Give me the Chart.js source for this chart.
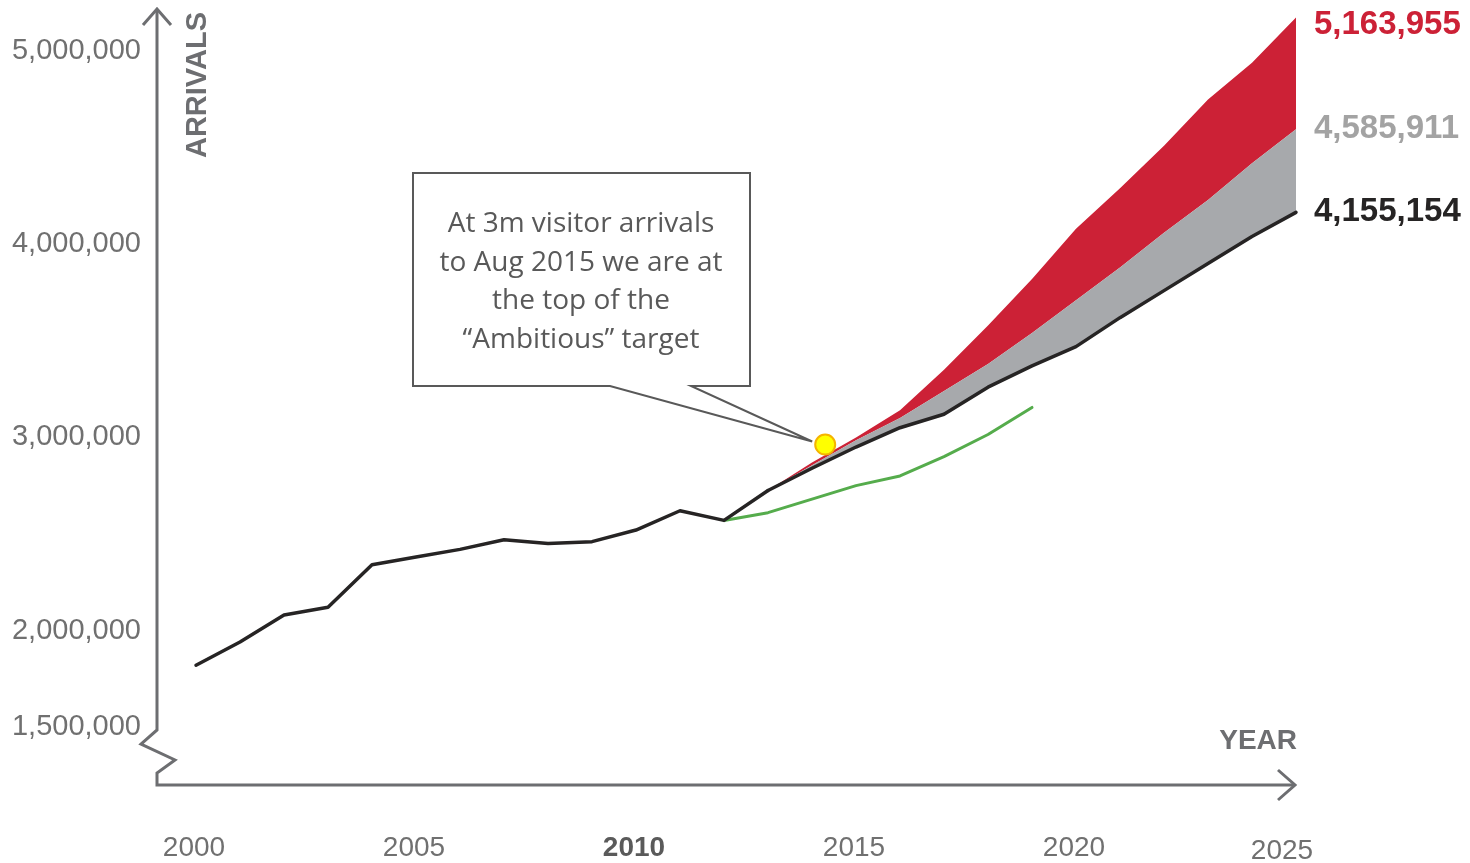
<!DOCTYPE html>
<html>
<head>
<meta charset="utf-8">
<title>Visitor arrivals</title>
<script src="https://cdn.jsdelivr.net/npm/chart.js@4.4.1/dist/chart.umd.min.js"></script>
<style>
  html, body { margin: 0; padding: 0; background: #fff; }
  #wrap { width: 1470px; height: 863px; position: relative; }
</style>
</head>
<body>
<div id="wrap"><canvas id="grafico"></canvas></div>
<script>
// actual arrivals up to 2013
const historyYears = [2000, 2001, 2002, 2003, 2004, 2005, 2006, 2007, 2008, 2009, 2010, 2011, 2012, 2013];
const historyArrivals = [1810000, 1930000, 2070000, 2110000, 2330000, 2370000, 2410000, 2460000, 2440000, 2450000, 2510000, 2610000, 2560000, 2715000];

// target scenarios 2013-2025
const projYears = [2013, 2014, 2015, 2016, 2017, 2018, 2019, 2020, 2021, 2022, 2023, 2024, 2025];
const targetBase = [2715000, 2830000, 2940000, 3040000, 3110000, 3250000, 3360000, 3460000, 3610000, 3750000, 3890000, 4030000, 4155154];
const targetMid = [2715000, 2845000, 2975000, 3090000, 3230000, 3370000, 3530000, 3700000, 3870000, 4050000, 4220000, 4410000, 4585911];
const targetHigh = [2715000, 2860000, 2990000, 3130000, 3340000, 3570000, 3810000, 4070000, 4280000, 4500000, 4740000, 4930000, 5163955];

// green line
const actualYears = [2012, 2013, 2014, 2015, 2016, 2017, 2018, 2019];
const actualArrivals = [2560000, 2600000, 2670000, 2740000, 2790000, 2890000, 3005000, 3145000];

// yellow marker (3m arrivals)
const markerYears = [2014.3];
const markerArrivals = [2953000];

const yTicks = [1500000, 2000000, 3000000, 4000000, 5000000];
const xTicks = [2000, 2005, 2010, 2015, 2020, 2025];

const notaLineas = ['At 3m visitor arrivals', 'to Aug 2015 we are at', 'the top of the', '\u201CAmbitious\u201D target'];

const ROJO = '#cc2136';
const GRIS = '#a7a9ac';
const NEGRO = '#262424';
const VERDE = '#55ac4c';
const EJE = '#6d6e71';

const pts = (xs, ys) => xs.map((x, i) => ({ x: x, y: ys[i] }));
const fmt = v => v.toLocaleString('en-US');

const ejes = {
  id: 'ejes',
  beforeDraw(chart) {
    const ctx = chart.ctx;
    const x = chart.scales.x, y = chart.scales.y;
    ctx.save();
    ctx.strokeStyle = EJE;
    ctx.lineWidth = 3;
    ctx.lineJoin = 'miter';
    // y axis with break, then x axis
    ctx.beginPath();
    ctx.moveTo(157, 10);
    ctx.lineTo(157, 730);
    ctx.lineTo(141, 744);
    ctx.lineTo(175, 760);
    ctx.lineTo(157, 773);
    ctx.lineTo(157, 785);
    ctx.lineTo(1294, 785);
    ctx.stroke();
    // arrow heads
    ctx.beginPath();
    ctx.moveTo(143, 25); ctx.lineTo(157, 9); ctx.lineTo(171, 25);
    ctx.moveTo(1278, 770); ctx.lineTo(1295, 785); ctx.lineTo(1278, 800);
    ctx.stroke();

    // tick labels
    ctx.fillStyle = '#707070';
    ctx.font = '29px "Liberation Sans", Arial, sans-serif';
    ctx.textAlign = 'right';
    ctx.textBaseline = 'middle';
    yTicks.forEach(v => ctx.fillText(fmt(v), 141, y.getPixelForValue(v) + 2));

    ctx.textAlign = 'center';
    xTicks.forEach(v => {
      const last = v === xTicks[xTicks.length - 1];
      ctx.font = (v === 2010 ? 'bold ' : '') + '28px "Liberation Sans", Arial, sans-serif';
      ctx.fillStyle = v === 2010 ? '#5a5a5a' : '#707070';
      ctx.fillText(String(v), x.getPixelForValue(v) - (last ? 14 : 2), last ? 851 : 848);
    });

    // axis titles
    ctx.fillStyle = EJE;
    ctx.font = 'bold 28px "Liberation Sans", Arial, sans-serif';
    ctx.textAlign = 'right';
    ctx.fillText('YEAR', 1297, 741);
    ctx.translate(197, 85);
    ctx.rotate(-Math.PI / 2);
    ctx.textAlign = 'center';
    ctx.font = 'bold 29px "Liberation Sans", Arial, sans-serif';
    ctx.fillText('ARRIVALS', 0, 1);
    ctx.restore();
  },
  afterDraw(chart) {
    const ctx = chart.ctx;
    const x = chart.scales.x, y = chart.scales.y;
    ctx.save();

    // end values of the three scenarios
    const fin = [[targetHigh, ROJO], [targetMid, '#a3a3a3'], [targetBase, NEGRO]];
    ctx.font = 'bold 33px "Liberation Sans", Arial, sans-serif';
    ctx.textAlign = 'left';
    ctx.textBaseline = 'middle';
    fin.forEach(([serie, color]) => {
      const v = serie[serie.length - 1];
      ctx.fillStyle = color;
      ctx.fillText(fmt(v), 1314, Math.max(y.getPixelForValue(v), 25));
    });

    // callout box pointing at the marker
    const tx = x.getPixelForValue(markerYears[0]) - 13;
    const ty = y.getPixelForValue(markerArrivals[0]) - 3;
    const bx = 413, by = 173, bw = 337, bh = 213;
    ctx.strokeStyle = '#595959';
    ctx.fillStyle = '#fff';
    ctx.lineWidth = 2;
    ctx.beginPath();
    ctx.moveTo(bx, by);
    ctx.lineTo(bx + bw, by);
    ctx.lineTo(bx + bw, by + bh);
    ctx.lineTo(691, by + bh);
    ctx.lineTo(tx, ty);
    ctx.lineTo(610, by + bh);
    ctx.lineTo(bx, by + bh);
    ctx.closePath();
    ctx.fill();
    ctx.stroke();

    ctx.fillStyle = '#595959';
    ctx.font = '28px "Open Sans", sans-serif';
    ctx.textAlign = 'center';
    notaLineas.forEach((t, i) => ctx.fillText(t, 581, 224 + i * 38.7));
    ctx.restore();
  }
};

new Chart(document.getElementById('grafico'), {
  type: 'line',
  data: {
    datasets: [
      {
        data: pts(historyYears, historyArrivals),
        borderColor: NEGRO, borderWidth: 3.5, pointRadius: 0, fill: false, order: 1
      },
      {
        data: pts(projYears, targetBase),
        borderColor: NEGRO, borderWidth: 3.5, pointRadius: 0, fill: false, order: 1
      },
      {
        data: pts(projYears, targetMid),
        borderWidth: 0, borderColor: 'rgba(0,0,0,0)', pointRadius: 0,
        backgroundColor: GRIS, fill: { target: 1 }, order: 3
      },
      {
        data: pts(projYears, targetHigh),
        borderWidth: 0, borderColor: 'rgba(0,0,0,0)', pointRadius: 0,
        backgroundColor: ROJO, fill: { target: 2 }, order: 4
      },
      {
        data: pts(actualYears, actualArrivals),
        borderColor: VERDE, borderWidth: 3, pointRadius: 0, fill: false, order: 2
      },
      {
        data: pts(markerYears, markerArrivals),
        showLine: false, pointRadius: 10, pointBorderWidth: 2,
        pointBackgroundColor: '#ffff00', pointBorderColor: '#f5b400', order: 0
      }
    ]
  },
  options: {
    responsive: true,
    maintainAspectRatio: false,
    animation: false,
    layout: { autoPadding: false, padding: { left: 196, right: 174, top: 1, bottom: 80 } },
    elements: { line: { tension: 0, borderJoinStyle: 'round', borderCapStyle: 'round' } },
    scales: {
      x: { type: 'linear', min: 2000, max: 2025, display: false },
      y: { type: 'linear', min: 1200000, max: 5250000, display: false }
    },
    plugins: {
      legend: { display: false },
      tooltip: { enabled: false },
      filler: { propagate: false }
    },
    clip: false
  },
  plugins: [ejes]
});
</script>
</body>
</html>
